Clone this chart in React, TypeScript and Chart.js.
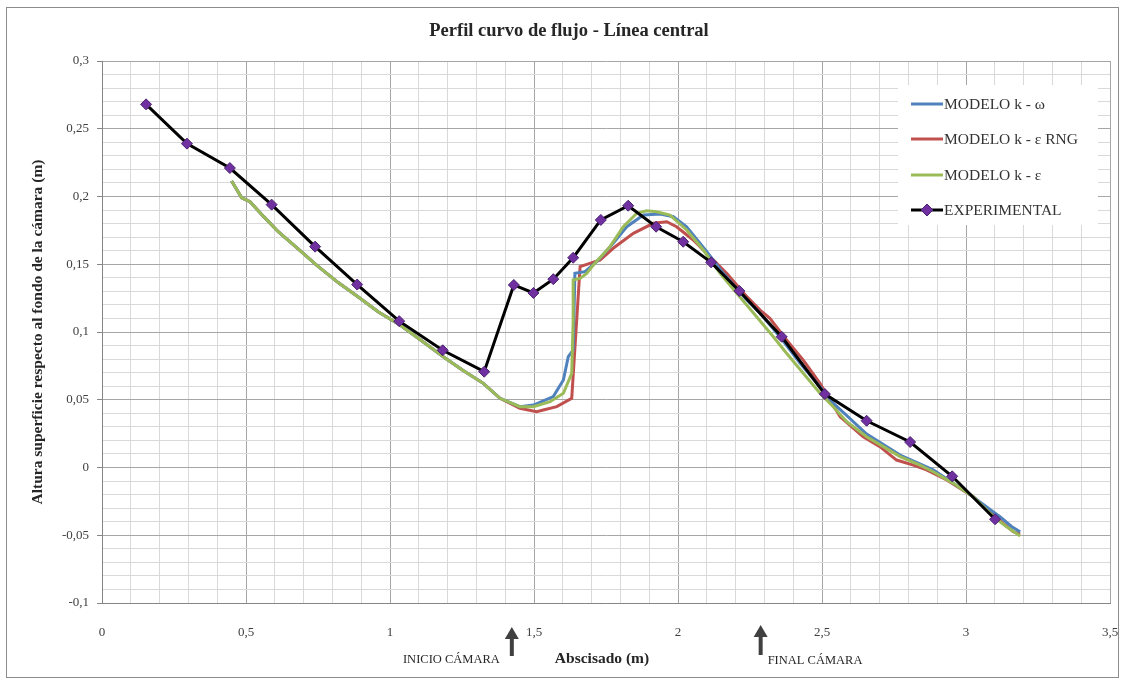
import React, { useEffect, useRef } from "react";
import { Chart, registerables } from "chart.js";

Chart.register(...registerables);

const TITLE = "Perfil curvo de flujo - Línea central";
const X_TITLE = "Abscisado (m)";
const Y_TITLE = "Altura superficie respecto al fondo de la cámara (m)";
const SERIES_LABELS = ["MODELO k - ω", "MODELO k - ε RNG", "MODELO k - ε", "EXPERIMENTAL"];
const SERIES_COLORS = ["#4F81BD", "#C0504D", "#9BBB59", "#000000"];
const MARKER_COLOR = "#7030A0";

// Axis ranges and steps
const X_MIN = 0;
const X_MAX = 3.5;
const X_STEP = 0.1;
const X_MAJOR = 0.5;
const Y_MIN = -0.1;
const Y_MAX = 0.3;
const Y_STEP = 0.01;
const Y_MAJOR = 0.05;

// Chamber start / end markers on the abscissa
const INICIO_CAMARA_X = 1.423;
const FINAL_CAMARA_X = 2.287;
const INICIO_LABEL = "INICIO CÁMARA";
const FINAL_LABEL = "FINAL CÁMARA";

// Experimental measurements
const expX = [0.153, 0.295, 0.444, 0.589, 0.74, 0.886, 1.032, 1.183, 1.327, 1.43, 1.498, 1.567, 1.636, 1.732, 1.827, 1.924, 2.018, 2.115, 2.213, 2.36, 2.51, 2.655, 2.806, 2.952, 3.101];
const expY = [0.268, 0.239, 0.221, 0.194, 0.163, 0.135, 0.108, 0.0865, 0.0707, 0.1347, 0.1288, 0.139, 0.1548, 0.1827, 0.1932, 0.1777, 0.1666, 0.1514, 0.1303, 0.0965, 0.0542, 0.0345, 0.0188, -0.0065, -0.0382];

// k - epsilon model
const keX = [0.45, 0.485, 0.514, 0.56, 0.612, 0.68, 0.745, 0.82, 0.896, 0.96, 1.035, 1.11, 1.185, 1.25, 1.324, 1.382, 1.451, 1.498, 1.556, 1.602, 1.631, 1.636, 1.636, 1.66, 1.683, 1.706, 1.764, 1.81, 1.857, 1.891, 1.926, 1.972, 2.03, 2.088, 2.146, 2.204, 2.273, 2.331, 2.377, 2.435, 2.493, 2.539, 2.586, 2.655, 2.713, 2.771, 2.84, 2.886, 2.956, 3.025, 3.095, 3.141, 3.188];
const keY = [0.2114, 0.1991, 0.1962, 0.1855, 0.174, 0.1615, 0.1494, 0.1365, 0.1249, 0.1148, 0.1052, 0.0935, 0.0818, 0.0722, 0.0621, 0.0511, 0.0449, 0.0449, 0.0486, 0.0548, 0.0695, 0.1089, 0.1384, 0.1396, 0.1433, 0.1494, 0.163, 0.1777, 0.1876, 0.1895, 0.1888, 0.1863, 0.1753, 0.1605, 0.1433, 0.1286, 0.1113, 0.0965, 0.0843, 0.0695, 0.0548, 0.0449, 0.0338, 0.0227, 0.0154, 0.008, 0.0018, -0.0031, -0.0117, -0.0215, -0.0363, -0.0437, -0.0506];

// k - omega model
const kwX = [0.45, 0.485, 0.514, 0.56, 0.612, 0.68, 0.745, 0.82, 0.896, 0.96, 1.035, 1.11, 1.185, 1.25, 1.324, 1.382, 1.451, 1.498, 1.567, 1.602, 1.619, 1.636, 1.642, 1.677, 1.718, 1.775, 1.822, 1.88, 1.938, 1.984, 2.03, 2.1, 2.157, 2.239, 2.285, 2.354, 2.424, 2.493, 2.539, 2.655, 2.771, 2.886, 3.002, 3.095, 3.118, 3.159, 3.188];
const kwY = [0.2114, 0.1991, 0.1962, 0.1855, 0.174, 0.1615, 0.1494, 0.1365, 0.1249, 0.1148, 0.1052, 0.0935, 0.0818, 0.0722, 0.0621, 0.0511, 0.0449, 0.0461, 0.0523, 0.0646, 0.0818, 0.0867, 0.1433, 0.1445, 0.1519, 0.1655, 0.1777, 0.1863, 0.1871, 0.1851, 0.1777, 0.1593, 0.1433, 0.1236, 0.1138, 0.0965, 0.0769, 0.0596, 0.0476, 0.0247, 0.0092, -0.0018, -0.0181, -0.0328, -0.0363, -0.0437, -0.0474];

// k - epsilon RNG model
const krX = [0.45, 0.485, 0.514, 0.56, 0.612, 0.68, 0.745, 0.82, 0.896, 0.96, 1.035, 1.11, 1.185, 1.25, 1.324, 1.382, 1.451, 1.509, 1.532, 1.579, 1.631, 1.66, 1.694, 1.729, 1.775, 1.845, 1.914, 1.961, 1.995, 2.053, 2.111, 2.169, 2.239, 2.285, 2.319, 2.377, 2.435, 2.493, 2.563, 2.643, 2.701, 2.759, 2.817, 2.863, 2.933, 3.025, 3.095, 3.164, 3.188];
const krY = [0.2114, 0.1991, 0.1962, 0.1855, 0.174, 0.1615, 0.1494, 0.1365, 0.1249, 0.1148, 0.1052, 0.0935, 0.0818, 0.0722, 0.0621, 0.0511, 0.0437, 0.0412, 0.0424, 0.0449, 0.0511, 0.1482, 0.1507, 0.1531, 0.1618, 0.1728, 0.1802, 0.1814, 0.1777, 0.1679, 0.1556, 0.1433, 0.1261, 0.1162, 0.1101, 0.0941, 0.0793, 0.0621, 0.0375, 0.0227, 0.0154, 0.0055, 0.0018, -0.0018, -0.0092, -0.0215, -0.0351, -0.0474, -0.0491];

const SERIF = "'Liberation Serif', 'Times New Roman', serif";

const toPoints = (xs: number[], ys: number[]) => xs.map((x, i) => ({ x, y: ys[i] }));
const isMultiple = (v: number, step: number) => Math.abs(v / step - Math.round(v / step)) < 1e-6;
const fmt = (v: number) => (Math.round(v * 100) / 100).toString().replace(".", ",");

const decorations = {
  id: "decorations",
  afterDraw(chart: any) {
    const ctx = chart.ctx as CanvasRenderingContext2D;
    const xs = chart.scales.x;
    const area = chart.chartArea;
    ctx.save();

    // outer frame
    ctx.strokeStyle = "#8c8c8c";
    ctx.lineWidth = 1;
    ctx.strokeRect(6.5, 7.5, 1112, 670);

    // title
    ctx.fillStyle = "#262626";
    ctx.font = `bold 18.5px ${SERIF}`;
    ctx.textAlign = "center";
    ctx.textBaseline = "middle";
    ctx.fillText(TITLE, 569, 31);

    // axis titles
    ctx.font = `bold 15.5px ${SERIF}`;
    ctx.save();
    ctx.translate(38, (area.top + area.bottom) / 2);
    ctx.rotate(-Math.PI / 2);
    ctx.fillText(Y_TITLE, 0, 0);
    ctx.restore();
    ctx.font = `bold 15.5px ${SERIF}`;
    ctx.fillText(X_TITLE, 602, 659);

    // chamber arrows
    const drawArrow = (px: number, tipY: number, baseY: number) => {
      ctx.fillStyle = "#404040";
      ctx.fillRect(px - 2, tipY + 10, 4, baseY - tipY - 10);
      ctx.beginPath();
      ctx.moveTo(px, tipY);
      ctx.lineTo(px - 7, tipY + 12);
      ctx.lineTo(px + 7, tipY + 12);
      ctx.closePath();
      ctx.fill();
    };
    const ix = xs.getPixelForValue(INICIO_CAMARA_X);
    const fx = xs.getPixelForValue(FINAL_CAMARA_X);
    drawArrow(ix, 627, 656);
    drawArrow(fx, 625, 655);
    ctx.fillStyle = "#262626";
    ctx.font = `12.5px ${SERIF}`;
    ctx.textAlign = "right";
    ctx.fillText(INICIO_LABEL, ix - 12, 660);
    ctx.textAlign = "left";
    ctx.fillText(FINAL_LABEL, fx + 7, 661);

    // legend
    const lx = 898;
    const ly = 85;
    ctx.fillStyle = "#ffffff";
    ctx.fillRect(lx, ly, 200, 140);
    const rows = [104, 139, 175, 210];
    ctx.font = `15.5px ${SERIF}`;
    ctx.textAlign = "left";
    ctx.textBaseline = "middle";
    SERIES_LABELS.forEach((label, i) => {
      const y = rows[i];
      ctx.strokeStyle = SERIES_COLORS[i];
      ctx.lineWidth = 3;
      ctx.beginPath();
      ctx.moveTo(911, y);
      ctx.lineTo(943, y);
      ctx.stroke();
      if (i === 3) {
        ctx.fillStyle = MARKER_COLOR;
        ctx.strokeStyle = "#4b2270";
        ctx.lineWidth = 1;
        ctx.beginPath();
        ctx.moveTo(927, y - 6);
        ctx.lineTo(933, y);
        ctx.lineTo(927, y + 6);
        ctx.lineTo(921, y);
        ctx.closePath();
        ctx.fill();
        ctx.stroke();
      }
      ctx.fillStyle = "#333333";
      ctx.fillText(label, 944, y + 1);
    });

    ctx.restore();
  },
};

export default function App() {
  const canvasRef = useRef<HTMLCanvasElement | null>(null);

  useEffect(() => {
    if (!canvasRef.current) return;
    const lineDataset = (i: number, xs: number[], ys: number[], order: number) => ({
      label: SERIES_LABELS[i],
      data: toPoints(xs, ys),
      borderColor: SERIES_COLORS[i],
      backgroundColor: SERIES_COLORS[i],
      borderWidth: 3,
      pointRadius: 0,
      tension: 0,
      order,
    });

    const chart = new Chart(canvasRef.current, {
      type: "line",
      data: {
        datasets: [
          {
            label: SERIES_LABELS[3],
            data: toPoints(expX, expY),
            borderColor: "#000000",
            borderWidth: 3,
            pointStyle: "rectRot",
            pointRadius: 5.5,
            pointBackgroundColor: MARKER_COLOR,
            pointBorderColor: "#4b2270",
            pointBorderWidth: 1,
            tension: 0,
            order: 0,
          },
          lineDataset(2, keX, keY, 1),
          lineDataset(0, kwX, kwY, 2),
          lineDataset(1, krX, krY, 3),
        ] as any,
      },
      options: {
        animation: false,
        responsive: false,
        devicePixelRatio: 1,
        parsing: false as any,
        layout: { padding: { left: 8, right: 15, top: 61, bottom: 10 } },
        plugins: {
          legend: { display: false },
          title: { display: false },
          tooltip: { enabled: false },
        },
        scales: {
          x: {
            type: "linear",
            min: X_MIN,
            max: X_MAX,
            afterFit: (s: any) => {
              s.height = 69;
            },
            border: { display: true, color: "#868686", width: 1 },
            grid: {
              color: (c: any) => (isMultiple(c.tick?.value ?? 0, X_MAJOR) ? "#a6a6a6" : "#d9d9d9"),
              tickColor: "rgba(0,0,0,0)",
              lineWidth: 1,
              drawTicks: true,
              tickLength: 20,
            },
            ticks: {
              stepSize: X_STEP,
              maxTicksLimit: 100,
              autoSkip: false,
              maxRotation: 0,
              padding: 2,
              color: "#404040",
              font: { family: SERIF, size: 13 },
              callback: (v: any) => (isMultiple(Number(v), X_MAJOR) ? fmt(Number(v)) : ""),
            },
          },
          y: {
            type: "linear",
            min: Y_MIN,
            max: Y_MAX,
            afterFit: (s: any) => {
              s.width = 94;
            },
            border: { display: true, color: "#868686", width: 1 },
            grid: {
              color: (c: any) => (isMultiple(c.tick?.value ?? 0, Y_MAJOR) ? "#a6a6a6" : "#d9d9d9"),
              tickColor: (c: any) => (isMultiple(c.tick?.value ?? 0, Y_MAJOR) ? "#868686" : "rgba(0,0,0,0)"),
              lineWidth: 1,
              tickLength: 5,
            },
            ticks: {
              stepSize: Y_STEP,
              maxTicksLimit: 100,
              autoSkip: false,
              padding: 8,
              color: "#404040",
              font: { family: SERIF, size: 13 },
              callback: (v: any) => (isMultiple(Number(v), Y_MAJOR) ? fmt(Number(v)) : ""),
            },
          },
        },
      },
      plugins: [decorations],
    });

    return () => chart.destroy();
  }, []);

  return (
    <div style={{ position: "fixed", left: 0, top: 0, width: 1125, height: 682, background: "#ffffff" }}>
      <canvas ref={canvasRef} width={1125} height={682} style={{ display: "block" }} />
    </div>
  );
}
